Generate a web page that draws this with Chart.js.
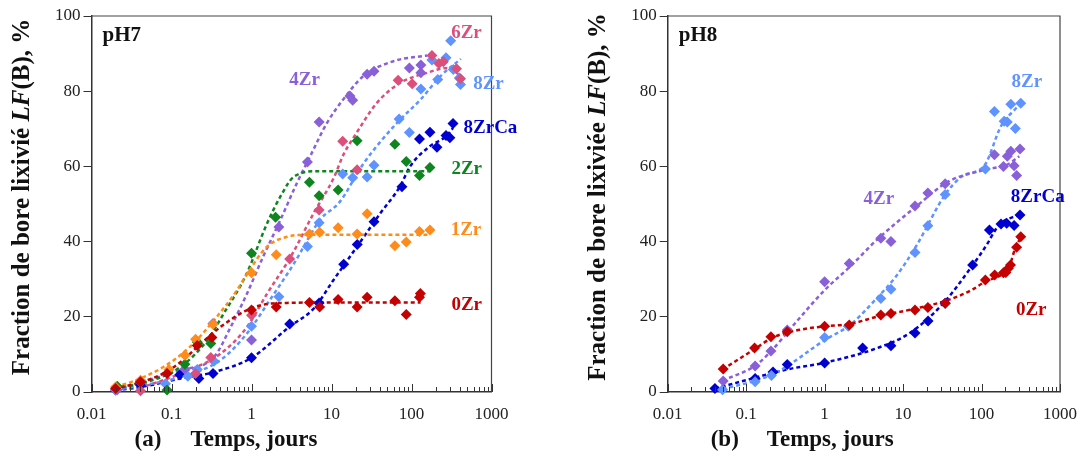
<!DOCTYPE html>
<html>
<head>
<meta charset="utf-8">
<script src="https://cdn.jsdelivr.net/npm/chart.js@4.4.1/dist/chart.umd.min.js"></script>
<style>
    html, body { margin: 0; padding: 0; background: #fff; }
    #wrap { position: relative; width: 1089px; height: 459px; }
    .panel { position: absolute; top: 0; height: 459px; }
</style>
</head>
<body>
<div id="wrap">
    <div class="panel" style="left:0;width:545px"><canvas id="chartA"></canvas></div>
    <div class="panel" style="left:545px;width:544px"><canvas id="chartB"></canvas></div>
</div>
<script>
// Axes
const xTicks = [0.01, 0.1, 1, 10, 100, 1000];
const xTickLabels = ['0.01', '0.1', '1', '10', '100', '1000'];
const yTicks = [0, 20, 40, 60, 80, 100];

// pH7 - measured points [temps (jours), LF(B) %]
const ph7_0Zr = [[0.02, 0.9], [0.041, 2.7], [0.088, 4.9], [0.21, 12.4], [0.32, 14.5], [1.0, 21.8], [2.04, 22.6], [5.3, 23.8], [7.1, 22.6], [12.1, 24.6], [20.9, 22.6], [27.9, 25.2], [62, 24.3], [86, 20.6], [126, 25.2], [129, 26.2]];
const ph7_1Zr = [[0.02, 1.3], [0.041, 3.1], [0.093, 6.0], [0.147, 9.8], [0.2, 14.0], [0.33, 18.0], [1.0, 31.7], [2.04, 36.5], [5.3, 42.0], [7.1, 42.5], [12.1, 43.7], [20.9, 42.0], [27.9, 47.4], [62, 38.9], [86, 39.9], [126, 42.7], [170, 43.1]];
const ph7_2Zr = [[0.021, 1.5], [0.041, 2.5], [0.088, 0.5], [0.147, 7.4], [0.21, 13.3], [0.31, 12.9], [1.0, 36.9], [2.0, 46.5], [5.3, 55.8], [7.0, 52.2], [12.1, 53.7], [20.9, 66.8], [62, 65.9], [86, 61.3], [126, 57.6], [170, 59.7]];
const ph7_4Zr = [[0.021, 0.6], [0.041, 2.7], [0.147, 6.1], [0.33, 18.2], [1.0, 13.8], [2.2, 43.9], [5.0, 61.2], [7.0, 71.8], [17, 78.7], [18.4, 77.6], [27.9, 84.5], [34, 85.3], [94, 86.2], [131, 87.0], [131, 84.9]];
const ph7_6Zr = [[0.041, 0.3], [0.2, 4.9], [0.31, 9.2], [1.0, 20.4], [3.0, 35.4], [7.0, 48.4], [13.8, 66.7], [20.9, 59.1], [68, 82.9], [102, 82.0], [180, 89.5], [220, 87.4], [250, 87.8], [365, 86.0], [410, 83.3]];
const ph7_8Zr = [[0.02, 0.5], [0.084, 2.2], [0.16, 4.2], [0.21, 6.0], [0.34, 8.2], [1.0, 17.5], [2.2, 25.3], [5.0, 38.7], [7.0, 45.0], [13.8, 58.0], [18.4, 57.0], [27.9, 57.2], [34, 60.3], [70, 72.6], [94, 69.0], [131, 80.6], [180, 88.3], [213, 83.1], [270, 88.9], [309, 93.4], [333, 85.8], [395, 83.5], [410, 81.8]];
const ph7_8ZrCa = [[0.02, 0.5], [0.041, 1.8], [0.127, 4.6], [0.22, 3.6], [0.33, 4.9], [1.0, 9.1], [3.0, 18.1], [7.0, 23.7], [14.2, 34.0], [21, 39.2], [34, 45.3], [76, 54.6], [126, 67.3], [170, 69.1], [208, 65.1], [270, 68.2], [302, 67.6], [330, 71.4]];

// pH7 - fitted curves (dashed)
const ph7_0Zr_fit = [[0.019, 0.9], [0.04, 2.5], [0.08, 5.0], [0.14, 8.5], [0.21, 12.0], [0.41, 17.3], [0.88, 21.8], [1.57, 23.4], [2.8, 23.7], [10, 23.8], [130, 23.8]];
const ph7_1Zr_fit = [[0.02, 1.5], [0.03, 2.5], [0.08, 6.7], [0.17, 12.0], [0.34, 19.1], [0.66, 27.1], [0.84, 30.7], [1.57, 38.7], [2.8, 41.3], [5, 41.8], [170, 41.8]];
const ph7_2Zr_fit = [[0.02, 1.0], [0.05, 2.7], [0.13, 6.7], [0.28, 13.8], [0.45, 20.9], [0.85, 31.0], [1.57, 44.9], [2.3, 52.0], [3.4, 57.3], [6.7, 58.7], [170, 58.7]];
const ph7_4Zr_fit = [[0.02, 0.5], [0.05, 3.1], [0.13, 5.8], [0.34, 9.3], [0.55, 17.3], [0.88, 26.2], [1.4, 36.0], [2.3, 45.8], [3.7, 55.6], [5.5, 63.0], [8.8, 71.6], [14, 77.8], [25, 84.0], [60, 88.0], [157, 89.5]];
const ph7_6Zr_fit = [[0.04, 1.0], [0.13, 4.9], [0.41, 10.2], [0.88, 17.3], [1.57, 26.2], [3.1, 36.0], [6.0, 47.6], [10.7, 57.0], [14, 63.0], [20, 68.5], [37, 76.9], [72, 82.2], [157, 84.9], [280, 86.2], [395, 84.4]];
const ph7_8Zr_fit = [[0.02, 0.5], [0.13, 4.0], [0.41, 8.5], [0.88, 15.6], [1.7, 24.5], [3.4, 34.2], [7.2, 45.8], [12.6, 50.5], [25.4, 60.9], [66, 71.6], [130, 77.8], [230, 84.0], [414, 88.6]];
const ph7_8ZrCa_fit = [[0.02, 0.5], [0.041, 1.3], [0.13, 3.6], [0.34, 5.3], [1.0, 9.1], [3, 17.4], [6, 22.2], [10.6, 29.8], [20.9, 38.7], [41, 47.6], [72, 54.7], [96, 60.0], [168, 65.3], [270, 68.0], [330, 70.2]];

// pH8 - measured points
const ph8_0Zr = [[0.051, 6.1], [0.128, 11.7], [0.207, 14.7], [0.334, 16.0], [1.0, 17.5], [2.06, 17.8], [5.2, 20.5], [7.0, 20.9], [14.2, 21.8], [20.7, 22.5], [34.4, 23.6], [112, 29.8], [147, 31.1], [190, 31.7], [204, 31.8], [220, 32.9], [234, 33.8], [280, 38.5], [316, 41.3]];
const ph8_4Zr = [[0.051, 2.9], [0.13, 6.9], [0.207, 10.9], [0.334, 16.5], [1.0, 29.3], [2.06, 34.2], [5.2, 40.9], [7.0, 40.0], [14.2, 49.5], [20.7, 52.9], [34.4, 55.4], [146, 63.1], [190, 60.0], [213, 62.7], [236, 64.0], [260, 60.2], [280, 57.6], [309, 64.6]];
const ph8_8Zr = [[0.05, 0.6], [0.13, 2.7], [0.21, 4.4], [1.0, 14.5], [2.0, 17.5], [5.2, 24.9], [7.0, 27.3], [14.2, 37.1], [20.7, 44.2], [34.4, 52.5], [112, 59.3], [146, 74.6], [194, 72.0], [213, 71.8], [236, 76.5], [270, 70.1], [316, 76.8]];
const ph8_8ZrCa = [[0.04, 0.9], [0.13, 3.6], [0.22, 5.3], [0.334, 7.3], [1.0, 7.7], [3.05, 11.7], [7.0, 12.3], [14.2, 15.7], [20.8, 18.9], [34.4, 23.6], [77, 33.8], [126, 43.1], [177, 44.7], [209, 44.9], [260, 44.3], [309, 47.1]];

// pH8 - fitted curves
const ph8_0Zr_fit = [[0.05, 6.0], [0.13, 11.5], [0.21, 14.3], [0.33, 15.8], [1, 17.5], [2, 18.0], [5.2, 20.3], [14.6, 22.2], [38, 24.5], [74.5, 27.1], [110, 29.3], [200, 32.0], [234, 34.2], [256, 36.9], [316, 41.3]];
const ph8_4Zr_fit = [[0.05, 3.0], [0.13, 7.0], [0.2, 10.5], [0.45, 19.0], [1, 27.1], [2.1, 33.3], [4.6, 40.4], [14.6, 49.3], [38, 56.0], [110, 59.1], [213, 60.5], [303, 62.7]];
const ph8_8Zr_fit = [[0.05, 0.8], [0.13, 3.0], [0.25, 5.3], [1, 13.8], [2.1, 17.8], [4.6, 24.9], [8.1, 30.7], [14.6, 38.7], [34.4, 52.5], [56, 57.3], [110, 60.4], [177, 70.7], [278, 75.6], [316, 77.0]];
const ph8_8ZrCa_fit = [[0.04, 0.9], [0.13, 3.8], [0.33, 6.0], [1, 7.8], [4.57, 11.6], [12, 15.6], [31, 23.1], [74.5, 33.3], [120, 39.6], [146, 42.7], [177, 44.9], [300, 47.1]];

const colors = {
    '0Zr': '#c40000',
    '1Zr': '#ff8c1a',
    '2Zr': '#0f8520',
    '4Zr': '#8a60d8',
    '6Zr': '#dc4f7b',
    '8Zr': '#5f93ff',
    '8ZrCa': '#0000d0'
};

const SERIF = '"Liberation Serif", "DejaVu Serif", serif';

// Draws frame, inward minor ticks, panel tag, series labels and axis titles
const decor = {
    id: 'decor',
    afterDraw(chart, args, o) {
        const { ctx, chartArea: a, scales: { x, y } } = chart;
        ctx.save();
        ctx.strokeStyle = '#444';
        ctx.lineWidth = 1.2;
        ctx.beginPath();
        ctx.moveTo(a.left, a.top);
        ctx.lineTo(a.right, a.top);
        ctx.lineTo(a.right, a.bottom);
        ctx.stroke();

        ctx.strokeStyle = '#333';
        ctx.lineWidth = 1;
        const tick = (v, len) => {
            const px = Math.round(x.getPixelForValue(v)) + 0.5;
            ctx.beginPath();
            ctx.moveTo(px, a.bottom);
            ctx.lineTo(px, a.bottom - len);
            ctx.stroke();
        };
        xTicks.forEach((d, i) => {
            tick(d, 8);
            if (i < xTicks.length - 1) for (let m = 2; m <= 9; m++) tick(m * d, 5);
        });

        ctx.textBaseline = 'middle';
        ctx.fillStyle = '#111';
        ctx.font = 'bold 21px ' + SERIF;
        ctx.textAlign = 'left';
        ctx.fillText(o.tag, a.left + 11, a.top + 20);

        ctx.font = 'bold 19px ' + SERIF;
        ctx.textAlign = 'center';
        o.labels.forEach(([t, xv, yv]) => {
            ctx.fillStyle = colors[t];
            ctx.fillText(t, x.getPixelForValue(xv), y.getPixelForValue(yv));
        });

        // x title
        ctx.fillStyle = '#111';
        ctx.textAlign = 'left';
        ctx.font = 'bold 23px ' + SERIF;
        ctx.fillText(o.letter, a.left + 43, 440);
        ctx.fillText('Temps, jours', a.left + 99, 440);

        // y title with italic LF
        const parts = [[o.yPre, 'bold 25px ' + SERIF], ['LF', 'italic bold 25px ' + SERIF], ['(B), %', 'bold 25px ' + SERIF]];
        let total = 0;
        parts.forEach(p => { ctx.font = p[1]; total += ctx.measureText(p[0]).width; });
        ctx.translate(a.left - 69, 197);
        ctx.rotate(-Math.PI / 2);
        let cx = -total / 2;
        parts.forEach(p => {
            ctx.font = p[1];
            ctx.fillText(p[0], cx, 0);
            cx += ctx.measureText(p[0]).width;
        });
        ctx.restore();
    }
};

function buildDatasets(points, fits) {
    const ds = [];
    Object.keys(points).forEach(k => {
        ds.push({
            type: 'scatter',
            data: points[k].map(p => ({ x: p[0], y: p[1] })),
            backgroundColor: colors[k],
            borderColor: colors[k],
            pointStyle: 'rectRot',
            pointRadius: 5.5,
            pointBorderWidth: 0,
            showLine: false,
            clip: false
        });
    });
    Object.keys(fits).forEach(k => {
        ds.push({
            type: 'line',
            data: fits[k].map(p => ({ x: p[0], y: p[1] })),
            borderColor: colors[k],
            borderWidth: 2.5,
            borderDash: [4, 3],
            pointRadius: 0,
            fill: false,
            cubicInterpolationMode: 'monotone'
        });
    });
    return ds;
}

function makeChart(id, cfg) {
    return new Chart(document.getElementById(id), {
        data: { datasets: buildDatasets(cfg.points, cfg.fits) },
        options: {
            responsive: true,
            maintainAspectRatio: false,
            animation: false,
            events: [],
            layout: { padding: { left: 0, right: cfg.padRight, top: 16, bottom: 0 } },
            plugins: {
                legend: { display: false },
                tooltip: { enabled: false },
                decor: cfg.decor
            },
            scales: {
                x: {
                    type: 'logarithmic',
                    min: 0.01,
                    max: 1000,
                    afterBuildTicks: s => { s.ticks = xTicks.map(v => ({ value: v })); },
                    afterFit: s => { s.height = 67; },
                    grid: { display: false, drawTicks: false },
                    border: { display: true, color: '#333', width: 1.5 },
                    ticks: {
                        autoSkip: false,
                        maxRotation: 0,
                        padding: 12,
                        color: '#222',
                        font: { family: SERIF, size: 17 },
                        callback: (v, i) => xTickLabels[i]
                    }
                },
                y: {
                    min: 0,
                    max: 100,
                    afterBuildTicks: s => { s.ticks = yTicks.map(v => ({ value: v })); },
                    afterFit: s => { s.width = cfg.yWidth; },
                    grid: { drawOnChartArea: false, tickLength: 8, color: '#333' },
                    border: { display: true, color: '#333', width: 1.5 },
                    ticks: {
                        padding: 3,
                        color: '#222',
                        font: { family: SERIF, size: 17 }
                    }
                }
            }
        },
        plugins: [decor]
    });
}

makeChart('chartA', {
    padRight: 53.5,
    yWidth: 91.5,
    points: { '0Zr': ph7_0Zr, '1Zr': ph7_1Zr, '2Zr': ph7_2Zr, '4Zr': ph7_4Zr, '6Zr': ph7_6Zr, '8Zr': ph7_8Zr, '8ZrCa': ph7_8ZrCa },
    fits: { '0Zr': ph7_0Zr_fit, '1Zr': ph7_1Zr_fit, '2Zr': ph7_2Zr_fit, '4Zr': ph7_4Zr_fit, '6Zr': ph7_6Zr_fit, '8Zr': ph7_8Zr_fit, '8ZrCa': ph7_8ZrCa_fit },
    decor: {
        tag: 'pH7',
        letter: '(a)',
        yPre: 'Fraction de bore lixivié ',
        labels: [['6Zr', 487, 95.5], ['4Zr', 4.6, 83], ['8Zr', 916, 81.8], ['8ZrCa', 970, 70.2], ['2Zr', 490, 59.3], ['1Zr', 480, 43], ['0Zr', 490, 23]]
    }
});

makeChart('chartB', {
    padRight: 22.3,
    yWidth: 122.7,
    points: { '0Zr': ph8_0Zr, '4Zr': ph8_4Zr, '8Zr': ph8_8Zr, '8ZrCa': ph8_8ZrCa },
    fits: { '0Zr': ph8_0Zr_fit, '4Zr': ph8_4Zr_fit, '8Zr': ph8_8Zr_fit, '8ZrCa': ph8_8ZrCa_fit },
    decor: {
        tag: 'pH8',
        letter: '(b)',
        yPre: 'Fraction de bore lixiviée ',
        labels: [['8Zr', 378, 82.5], ['4Zr', 4.92, 51.4], ['8ZrCa', 520, 51.8], ['0Zr', 430, 21.8]]
    }
});
</script>
</body>
</html>
